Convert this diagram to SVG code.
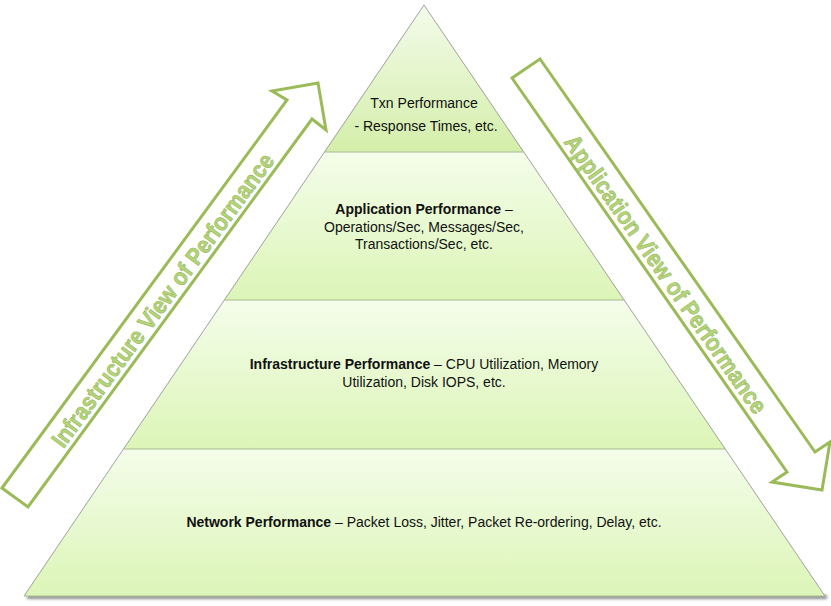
<svg xmlns="http://www.w3.org/2000/svg" width="831" height="606" viewBox="0 0 831 606">
<style>
.band{stroke:none}
.side{fill:none;stroke:#8a8a8a;stroke-width:0.8}
.sep{stroke:#a9ba93;stroke-width:1.2}
.lbl{font-family:"Liberation Sans",Arial,sans-serif;font-size:14px;fill:#111;text-anchor:middle}
.b{font-weight:bold}
.arrow{fill:#fff;stroke:#9bbb59;stroke-width:3;stroke-linejoin:miter}
.atxt{font-family:"Liberation Sans",Arial,sans-serif;font-weight:bold;font-size:24px;fill:#b4d57c;stroke:#93b553;stroke-width:0.6;text-anchor:middle}
</style>
<defs>
<linearGradient id="gTop" x1="0" y1="0" x2="0" y2="1">
<stop offset="0" stop-color="#f3fbea"/>
<stop offset="1" stop-color="#d4eeaa"/>
</linearGradient>
<linearGradient id="gBand" x1="0" y1="0" x2="0" y2="1">
<stop offset="0" stop-color="#f4fdea"/>
<stop offset="1" stop-color="#dcf5b7"/>
</linearGradient>
<filter id="sh" x="-5%" y="-50%" width="110%" height="200%">
<feGaussianBlur stdDeviation="1.5"/>
</filter>
</defs>
<rect x="0" y="0" width="831" height="606" fill="#fff"/>
<g id="shadow">
<rect x="27" y="595" width="800" height="4" fill="#8c8c8c" filter="url(#sh)"/>
</g>
<g id="level-txn">
<polygon class="band" fill="url(#gTop)" points="424,5 524,152 324.5,152"/>
<text class="lbl" x="424" y="108">Txn Performance</text>
<text class="lbl" x="426" y="131">- Response Times, etc.</text>
</g>
<g id="level-application">
<polygon class="band" fill="url(#gBand)" points="324.5,152 524,152 624.2,300 224.3,300"/>
<text class="lbl" x="424" y="214"><tspan class="b">Application Performance</tspan> –</text>
<text class="lbl" x="424" y="232">Operations/Sec, Messages/Sec,</text>
<text class="lbl" x="424" y="249">Transactions/Sec, etc.</text>
</g>
<g id="level-infrastructure">
<polygon class="band" fill="url(#gBand)" points="224.3,300 624.2,300 725.2,449 123.5,449"/>
<text class="lbl" x="424" y="369"><tspan class="b">Infrastructure Performance</tspan> – CPU Utilization, Memory</text>
<text class="lbl" x="424" y="387">Utilization, Disk IOPS, etc.</text>
</g>
<g id="level-network">
<polygon class="band" fill="url(#gBand)" points="123.5,449 725.2,449 825,596 24,596"/>
<text class="lbl" x="424" y="527"><tspan class="b">Network Performance</tspan> – Packet Loss, Jitter, Packet Re-ordering, Delay, etc.</text>
</g>
<g id="pyramid-edges">
<polyline class="side" points="24,596 424,5 825,596"/>
<line class="sep" x1="324.5" y1="152" x2="524" y2="152"/>
<line class="sep" x1="224.3" y1="300" x2="624.2" y2="300"/>
<line class="sep" x1="123.5" y1="449" x2="725.2" y2="449"/>
<line x1="24" y1="596" x2="825" y2="596" stroke="#a9ba93" stroke-width="1"/>
</g>
<g id="arrow-infrastructure">
<polygon class="arrow" points="2,488 287,100 272,91 318,83 326,130 312,119 28,507"/>
<text class="atxt" transform="translate(162.5,300) rotate(-53.7)" y="8.5" textLength="358" lengthAdjust="spacingAndGlyphs">Infrastructure View of Performance</text>
</g>
<g id="arrow-application">
<polygon class="arrow" points="512,78 540,59 815,452 830,442 822,490 772,482 787,472"/>
<text class="atxt" transform="translate(666,274) rotate(55.05)" y="8.5" textLength="334" lengthAdjust="spacingAndGlyphs">Application View of Performance</text>
</g>
</svg>
